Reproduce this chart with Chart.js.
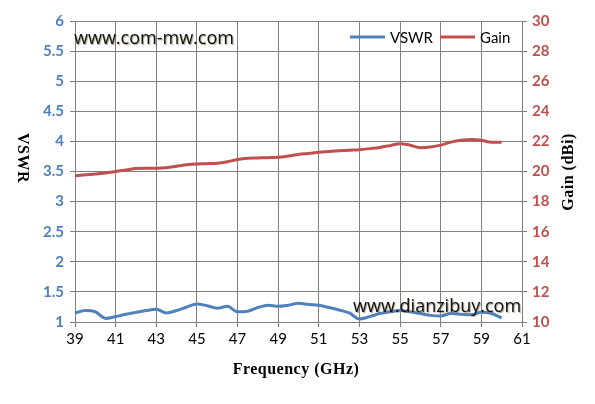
<!DOCTYPE html>
<html><head><meta charset="utf-8">
<script src="https://cdn.jsdelivr.net/npm/chart.js@4/dist/chart.umd.min.js"></script>
<style>html,body{margin:0;padding:0;background:#fff;}#wrap{width:595px;height:404px;}</style>
</head><body><div id="wrap"><canvas id="c" width="595" height="404"></canvas></div>
<script>
const freqs = [39,39.5,40,40.5,41,41.5,42,42.5,43,43.5,44,44.5,45,45.5,46,46.5,47,47.5,48,48.5,49,49.5,50,50.5,51,51.5,52,52.5,53,53.5,54,54.5,55,55.5,56,56.5,57,57.5,58,58.5,59,59.5,60];
const vswr = [1.15,1.19,1.17,1.06,1.09,1.13,1.16,1.19,1.21,1.15,1.19,1.25,1.30,1.27,1.23,1.26,1.17,1.18,1.24,1.28,1.26,1.28,1.31,1.29,1.28,1.24,1.20,1.15,1.05,1.09,1.14,1.17,1.19,1.17,1.14,1.11,1.10,1.14,1.13,1.12,1.16,1.14,1.07];
const gain = [19.72,19.78,19.83,19.9,20.0,20.1,20.2,20.22,20.22,20.25,20.35,20.45,20.5,20.52,20.55,20.65,20.8,20.88,20.9,20.92,20.95,21.03,21.13,21.2,21.28,21.33,21.38,21.42,21.45,21.52,21.6,21.72,21.85,21.75,21.58,21.63,21.75,21.95,22.07,22.12,22.07,21.94,21.95];
const seriesNames = ['VSWR','Gain'];
const xTitle = 'Frequency (GHz)';
const yTitle = 'VSWR';
const y2Title = 'Gain (dBi)';
const watermarks = ['www.com-mw.com','www.dianzibuy.com'];

const BLUE = '#4F81BD', RED = '#C0504D', GRID = '#808080';

const overlay = {
  id: 'overlay',
  afterDraw(chart) {
    const ctx = chart.ctx;
    ctx.save();
    // axis titles
    ctx.fillStyle = '#000';
    ctx.font = 'bold 16px "Liberation Serif"';
    ctx.letterSpacing = '0.5px';
    ctx.textAlign = 'center'; ctx.textBaseline = 'middle';
    ctx.fillText(xTitle, 296, 370);
    ctx.save(); ctx.translate(22, 158); ctx.rotate(Math.PI / 2); ctx.fillText(yTitle, 0, 0); ctx.restore();
    ctx.save(); ctx.translate(569, 172); ctx.rotate(-Math.PI / 2); ctx.fillText(y2Title, 0, 0); ctx.restore();
    ctx.letterSpacing = '0px';
    // legend
    ctx.font = '15px Lato';
    ctx.textAlign = 'left';
    ctx.lineWidth = 3;
    ctx.strokeStyle = BLUE; ctx.beginPath(); ctx.moveTo(350, 37); ctx.lineTo(385, 37); ctx.stroke();
    ctx.fillText(seriesNames[0], 390, 38);
    ctx.strokeStyle = RED; ctx.beginPath(); ctx.moveTo(440, 37); ctx.lineTo(475, 37); ctx.stroke();
    ctx.fillText(seriesNames[1], 480, 38);
    // watermarks
    ctx.font = '18px "Open Sans"';
    ctx.fillStyle = '#111';
    ctx.shadowColor = 'rgba(120,100,60,0.6)'; ctx.shadowOffsetX = 1; ctx.shadowOffsetY = 1; ctx.shadowBlur = 1;
    ctx.fillText(watermarks[0], 74, 39);
    ctx.fillText(watermarks[1], 353, 307);
    ctx.restore();
  }
};

new Chart(document.getElementById('c'), {
  type: 'line',
  data: {
    datasets: [
      { label: seriesNames[0], data: freqs.map((f,i)=>({x:f,y:vswr[i]})), yAxisID: 'y', borderColor: BLUE, borderWidth: 3, pointRadius: 0, tension: 0.4, cubicInterpolationMode: 'monotone', fill: false },
      { label: seriesNames[1], data: freqs.map((f,i)=>({x:f,y:gain[i]})), yAxisID: 'y2', borderColor: RED, borderWidth: 3, pointRadius: 0, tension: 0.4, cubicInterpolationMode: 'monotone', fill: false }
    ]
  },
  options: {
    responsive: false, animation: false, devicePixelRatio: 1,
    layout: { padding: { top: 21, left: 0, right: 0, bottom: 0 } },
    plugins: { legend: { display: false }, tooltip: { enabled: false } },
    scales: {
      x: {
        type: 'linear', min: 39, max: 61,
        ticks: { stepSize: 2, color: '#000', font: { family: 'Lato', size: 15 }, padding: 3, maxRotation: 0 },
        grid: { color: GRID, tickLength: 5, tickColor: GRID },
        border: { color: GRID },
        afterFit(s) { s.height = 82; }
      },
      y: {
        position: 'left', min: 1, max: 6,
        ticks: { stepSize: 0.5, color: BLUE, font: { family: 'Lato', size: 15, weight: 'bold' }, padding: 6,
                 callback: v => String(Math.round(v * 10) / 10) },
        grid: { color: GRID, tickLength: 5, tickColor: GRID },
        border: { color: GRID },
        afterFit(s) { s.width = 75; }
      },
      y2: {
        position: 'right', min: 10, max: 30,
        ticks: { stepSize: 2, color: RED, font: { family: 'Lato', size: 15, weight: 'bold' }, padding: 5 },
        grid: { drawOnChartArea: false, tickLength: 5, tickColor: GRID },
        border: { color: GRID },
        afterFit(s) { s.width = 73; }
      }
    }
  },
  plugins: [overlay]
});
</script></body></html>
